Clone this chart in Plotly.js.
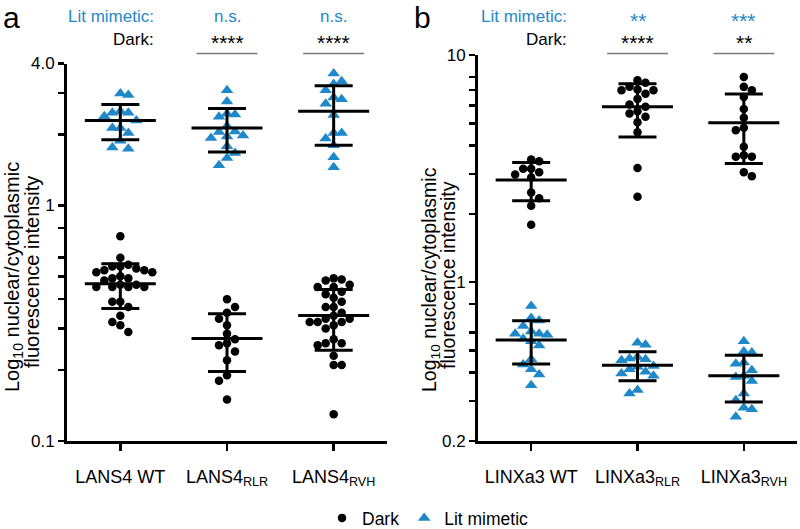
<!DOCTYPE html>
<html><head><meta charset="utf-8">
<script src="https://cdn.plot.ly/plotly-3.0.1.min.js"></script>
<style>html,body{margin:0;padding:0;background:#fff;}#chart{width:800px;height:529px;}</style>
</head><body><div id="chart"></div>
<script>
// ---------- data ----------
const categoriesA = ['LANS4 WT', 'LANS4<sub>RLR</sub>', 'LANS4<sub>RVH</sub>'];
const categoriesB = ['LINXa3 WT', 'LINXa3<sub>RLR</sub>', 'LINXa3<sub>RVH</sub>'];

const darkA_WT  = [0.74, 0.60, 0.55, 0.55, 0.56, 0.54, 0.53, 0.52, 0.53, 0.52, 0.49, 0.49, 0.50, 0.48, 0.46, 0.45, 0.45, 0.45, 0.46, 0.45, 0.39, 0.39, 0.37, 0.34, 0.32, 0.29, 0.31];
const darkA_RLR = [0.40, 0.37, 0.35, 0.33, 0.31, 0.285, 0.27, 0.255, 0.26, 0.24, 0.22, 0.19, 0.18, 0.15];
const darkA_RVH = [0.49, 0.45, 0.48, 0.485, 0.46, 0.45, 0.43, 0.42, 0.405, 0.39, 0.37, 0.37, 0.35, 0.33, 0.31, 0.32, 0.33, 0.32, 0.32, 0.34, 0.30, 0.26, 0.27, 0.26, 0.255, 0.23, 0.21, 0.21, 0.13];
const litA_WT   = [2.94, 2.98, 2.47, 2.39, 2.47, 2.51, 2.29, 2.13, 2.13, 2.03, 1.88, 1.76, 1.74];
const litA_RLR  = [3.08, 2.76, 2.43, 2.45, 2.38, 2.17, 2.06, 1.93, 1.98, 2.05, 1.96, 1.78, 1.67, 1.59, 1.48];
const litA_RVH  = [3.63, 3.36, 3.27, 3.08, 2.82, 2.87, 2.70, 2.42, 1.92, 2.03, 2.03, 1.80, 1.60, 1.45];

const darkB_WT  = [3.41, 3.47, 2.98, 3.16, 3.16, 3.05, 2.89, 2.48, 2.34, 2.17, 1.79];
const darkB_RLR = [7.54, 7.75, 7.25, 6.99, 7.05, 6.99, 6.76, 6.41, 6.05, 5.92, 5.66, 5.35, 5.53, 5.06, 4.57, 3.18, 2.38];
const darkB_RVH = [8.01, 7.24, 6.99, 6.54, 5.79, 5.29, 4.78, 4.67, 3.95, 3.62, 3.57, 3.57, 3.05, 2.93];
const litB_WT   = [0.785, 0.679, 0.695, 0.641, 0.607, 0.593, 0.587, 0.593, 0.564, 0.549, 0.527, 0.458, 0.434, 0.414, 0.392, 0.352];
const litB_RLR  = [0.531, 0.541, 0.469, 0.453, 0.461, 0.458, 0.428, 0.414, 0.424, 0.403, 0.396, 0.387, 0.324, 0.335];
const litB_RVH  = [0.549, 0.496, 0.490, 0.443, 0.438, 0.410, 0.387, 0.383, 0.367, 0.324, 0.302, 0.280, 0.276, 0.256];

const meanDarkA = [0.465, 0.272, 0.341];
const sdDarkA   = [0.100, 0.075, 0.098];
const meanLitA  = [2.29, 2.13, 2.51];
const sdLitA    = [0.39, 0.445, 0.71];
const meanDarkB = [2.82, 5.92, 5.03];
const sdDarkB   = [0.54, 1.56, 1.70];
const meanLitB  = [0.557, 0.431, 0.387];
const sdLitB    = [0.12, 0.063, 0.09];

const sigLitA  = ['', 'n.s.', 'n.s.'];
const sigDarkA = ['', '****', '****'];
const sigLitB  = ['', '**', '***'];
const sigDarkB = ['', '****', '**'];

const yTicksA    = [0.1, 1, 4];
const yTickTextA = ['0.1', '1', '4.0'];
const yMinorA    = [0.2, 0.3, 0.4, 0.5, 0.6, 0.8, 2, 3];
const yTicksB    = [0.2, 1, 10];
const yTickTextB = ['0.2', '1', '10'];
const yMinorB    = [0.3, 0.4, 0.5, 0.6, 0.8, 2, 3, 4, 5, 6, 7, 8];

// ---------- layout geometry ----------
const W = 800, H = 529;
const FONT = 'Liberation Sans, Arial, Helvetica, sans-serif';
const BLUE = '#1f88c9';
const px2x = p => p / W;
const px2y = p => 1 - p / H;
const domXA = [px2x(67), px2x(387)];
const domXB = [px2x(478), px2x(797)];
const domYA = [px2y(441), px2y(63.5)];
const domYB = [px2y(441), px2y(55)];
const rangeYA = [Math.log10(0.1), Math.log10(4)];
const rangeYB = [Math.log10(0.2), Math.log10(10)];

function swarm(vals, center, pxPerUnit, pxPerDecade, step, minGap) {
  const order = vals.map((v, i) => i).sort((a, b) => vals[b] - vals[a]);
  const placed = [];
  const xs = new Array(vals.length);
  let flip = 1;
  order.forEach(i => {
    const py = Math.log10(vals[i]) * pxPerDecade;
    for (let r = 0; r < 30; r++) {
      const cands = r === 0 ? [0] : [flip * r, -flip * r];
      let ok = false;
      for (const k of cands) {
        const px = k * step;
        if (placed.every(p => Math.abs(p.px - px) >= step * 0.99 || Math.abs(p.py - py) >= minGap)) {
          placed.push({px, py});
          xs[i] = center + px / pxPerUnit;
          if (r > 0) flip = -flip;
          ok = true; break;
        }
      }
      if (ok) break;
    }
  });
  return xs;
}

function panelTraces(groupsDark, groupsLit, stats, xa, ya, domX, domY, rangeY, legend) {
  const pxPerUnit = (domX[1] - domX[0]) * W / 3;
  const pxPerDecade = (domY[1] - domY[0]) * H / (rangeY[1] - rangeY[0]);
  const traces = [];
  const mk = (groups, dot) => {
    const x = [], y = [];
    groups.forEach((g, gi) => {
      const xs = swarm(g, gi, pxPerUnit, pxPerDecade, 8, dot ? 8.5 : 9.5);
      g.forEach((v, i) => { x.push(xs[i]); y.push(v); });
    });
    return {x, y};
  };
  const d = mk(groupsDark, true), l = mk(groupsLit, false);
  traces.push({type: 'scatter', mode: 'markers', x: d.x, y: d.y, xaxis: xa, yaxis: ya, name: 'Dark',
    showlegend: legend, legendrank: 1, marker: {symbol: 'circle', size: 8.5, color: '#000', line: {width: 0}}, hoverinfo: 'y'});
  traces.push({type: 'scatter', mode: 'markers', x: l.x, y: l.y, xaxis: xa, yaxis: ya, name: 'Lit mimetic',
    showlegend: legend, legendrank: 2, marker: {symbol: 'triangle-up', size: 11, color: BLUE, line: {width: 0}}, hoverinfo: 'y'});
  const halfMean = 35.5 / pxPerUnit;
  stats.forEach(([m, sd]) => {
    const lx = [], ly = [];
    m.forEach((v, i) => { lx.push(i - halfMean, i + halfMean, null); ly.push(v, v, null); });
    traces.push({type: 'scatter', mode: 'lines', x: lx, y: ly, xaxis: xa, yaxis: ya, showlegend: false,
      line: {color: '#000', width: 3}, hoverinfo: 'skip'});
    traces.push({type: 'scatter', mode: 'markers', x: [0, 1, 2], y: m, xaxis: xa, yaxis: ya, showlegend: false,
      marker: {size: 1, color: 'rgba(0,0,0,0)'}, hoverinfo: 'skip',
      error_y: {type: 'data', array: sd, symmetric: true, color: '#000', thickness: 3, width: 19}});
  });
  return traces;
}

const data = [].concat(
  panelTraces([darkA_WT, darkA_RLR, darkA_RVH], [litA_WT, litA_RLR, litA_RVH],
    [[meanDarkA, sdDarkA], [meanLitA, sdLitA]], 'x', 'y', domXA, domYA, rangeYA, true),
  panelTraces([darkB_WT, darkB_RLR, darkB_RVH], [litB_WT, litB_RLR, litB_RVH],
    [[meanDarkB, sdDarkB], [meanLitB, sdLitB]], 'x2', 'y2', domXB, domYB, rangeYB, false)
);

const axisCommon = {showline: true, linewidth: 3, linecolor: '#000', ticks: 'outside', tickwidth: 2.5,
  tickcolor: '#000', showgrid: false, zeroline: false, fixedrange: true, automargin: false};
const xCommon = Object.assign({}, axisCommon, {range: [-0.5, 2.5], tickvals: [0, 1, 2], ticklen: 7,
  tickfont: {size: 18, family: FONT, color: '#000'}, ticklabelstandoff: 10});
const yCommon = Object.assign({}, axisCommon, {type: 'log', ticklen: 6,
  tickfont: {size: 17, family: FONT, color: '#000'}});

const annotations = [];
const shapes = [];
function addText(text, x, y, opts) {
  annotations.push(Object.assign({text, x, y, xref: 'paper', yref: 'paper', showarrow: false,
    xanchor: 'center', yanchor: 'middle', font: {family: FONT, size: 17, color: '#000'}}, opts || {}));
}
// panel letters
addText('a', px2x(1), px2y(18), {xanchor: 'left', font: {family: FONT, size: 30, color: '#000'}});
addText('b', px2x(412), px2y(18), {xanchor: 'left', font: {family: FONT, size: 30, color: '#000'}});
// row labels
addText('Lit mimetic:', px2x(156), px2y(17), {xanchor: 'right', font: {family: FONT, size: 17, color: BLUE}});
addText('Dark:', px2x(156), px2y(39), {xanchor: 'right'});
addText('Lit mimetic:', px2x(569), px2y(17), {xanchor: 'right', font: {family: FONT, size: 17, color: BLUE}});
addText('Dark:', px2x(569), px2y(39), {xanchor: 'right'});
// significance
function addSig(lit, dark, xref) {
  lit.forEach((t, i) => { if (t) annotations.push({text: t, x: i, y: px2y(t.startsWith('*') ? 20 : 17), xref, yref: 'paper',
    showarrow: false, xanchor: 'center', yanchor: 'middle', font: {family: FONT, size: t.startsWith('*') ? 21 : 17, color: BLUE}}); });
  dark.forEach((t, i) => { if (t) {
    annotations.push({text: t, x: i, y: px2y(42.5), xref, yref: 'paper', showarrow: false, xanchor: 'center',
      yanchor: 'middle', font: {family: FONT, size: 21, color: '#000'}});
    shapes.push({type: 'line', xref, yref: 'paper', x0: i - 0.286, x1: i + 0.286, y0: px2y(53.5), y1: px2y(53.5),
      line: {color: '#7a7a7a', width: 1.5}});
  }});
}
addSig(sigLitA, sigDarkA, 'x');
addSig(sigLitB, sigDarkB, 'x2');
// y axis titles
const t1 = 'Log<sub>10</sub> nuclear/cytoplasmic', t2 = 'fluorescence intensity';
addText(t1, px2x(13), px2y(277), {textangle: -90, font: {family: FONT, size: 20, color: '#000'}});
addText(t2, px2x(32), px2y(272), {textangle: -90, font: {family: FONT, size: 20, color: '#000'}});
addText(t1, px2x(430), px2y(280), {textangle: -90, font: {family: FONT, size: 19.5, color: '#000'}});
addText(t2, px2x(448), px2y(275), {textangle: -90, font: {family: FONT, size: 19.5, color: '#000'}});

const layout = {
  width: W, height: H, margin: {l: 0, r: 0, t: 0, b: 0, autoexpand: false},
  paper_bgcolor: '#fff', plot_bgcolor: '#fff',
  font: {family: FONT, color: '#000'},
  xaxis: Object.assign({}, xCommon, {domain: domXA, anchor: 'y', ticktext: categoriesA}),
  yaxis: Object.assign({}, yCommon, {domain: domYA, anchor: 'x', range: rangeYA, tickvals: yTicksA, ticktext: yTickTextA,
    minor: {tickvals: yMinorA, ticks: 'outside', ticklen: 6, tickwidth: 2.5, tickcolor: '#000', showgrid: false}}),
  xaxis2: Object.assign({}, xCommon, {domain: domXB, anchor: 'y2', ticktext: categoriesB}),
  yaxis2: Object.assign({}, yCommon, {domain: domYB, anchor: 'x2', range: rangeYB, tickvals: yTicksB, ticktext: yTickTextB,
    minor: {tickvals: yMinorB, ticks: 'outside', ticklen: 6, tickwidth: 2.5, tickcolor: '#000', showgrid: false}}),
  showlegend: true,
  legend: {orientation: 'h', x: 0.535, xanchor: 'center', y: px2y(518), yanchor: 'middle',
    font: {family: FONT, size: 17.5, color: '#000'}, bgcolor: 'rgba(0,0,0,0)', itemwidth: 30, traceorder: 'normal'},
  annotations, shapes
};

Plotly.newPlot('chart', data, layout, {displayModeBar: false, staticPlot: true});
</script>
</body></html>
